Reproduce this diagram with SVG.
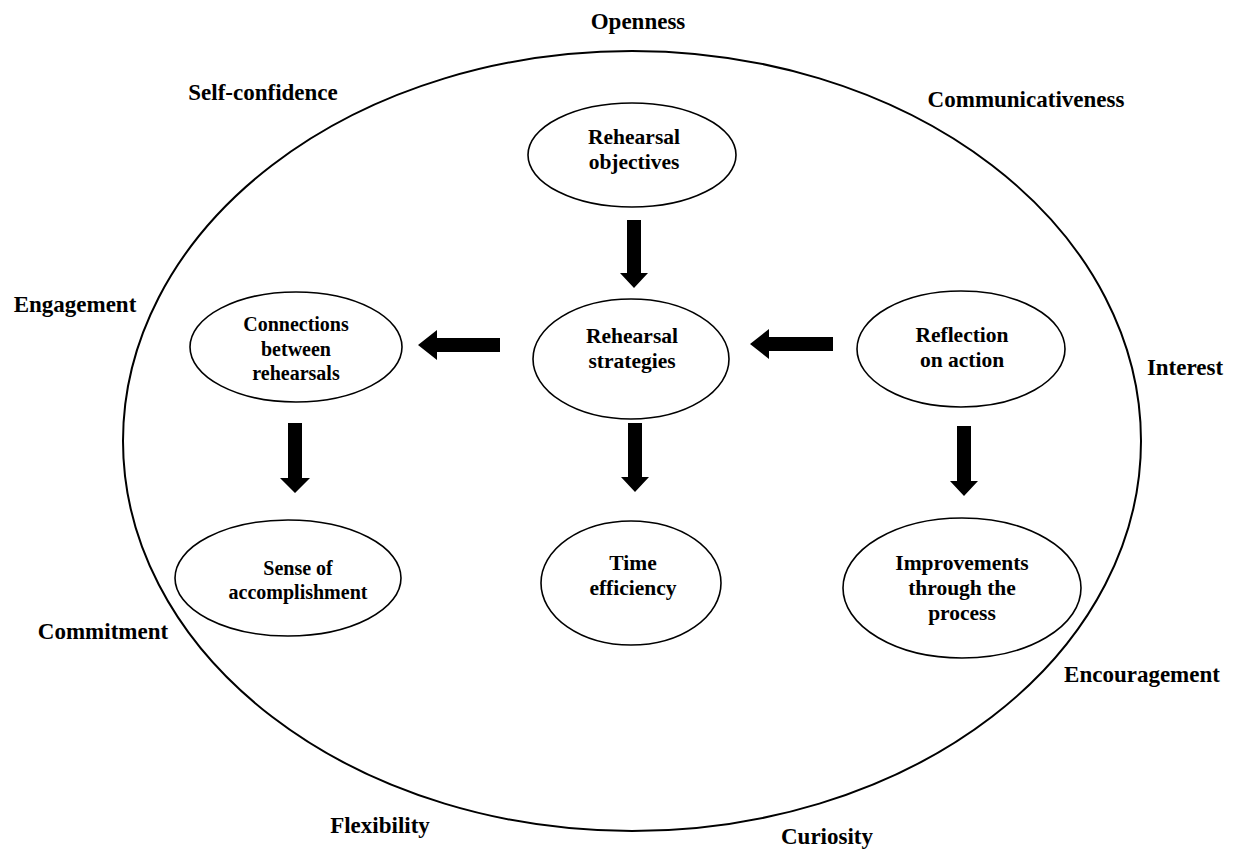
<svg xmlns="http://www.w3.org/2000/svg" width="1234" height="850" viewBox="0 0 1234 850">
<style>
text{font-family:"Liberation Serif","Times New Roman",serif;font-weight:bold;fill:#000;text-anchor:middle}
.outer{font-size:23px}
.lbl{font-size:21.5px}
.sm{font-size:20px}
.node{fill:#fff;stroke:#000;stroke-width:1.6}
.arrow{fill:#000;stroke:none}
</style>
<rect width="1234" height="850" fill="#fff"/>
<g id="frame">
<ellipse cx="632" cy="441" rx="509" ry="390" fill="none" stroke="#000" stroke-width="2"/>
</g>
<g id="outer-labels">
<text x="638" y="29" class="outer">Openness</text>
<text x="263" y="100" class="outer">Self-confidence</text>
<text x="1026" y="107" class="outer">Communicativeness</text>
<text x="75" y="312" class="outer">Engagement</text>
<text x="1185" y="375" class="outer">Interest</text>
<text x="103" y="639" class="outer">Commitment</text>
<text x="1142" y="682" class="outer">Encouragement</text>
<text x="380" y="833" class="outer">Flexibility</text>
<text x="827" y="844" class="outer">Curiosity</text>
</g>
<g id="objectives">
<ellipse class="node" cx="632" cy="155" rx="104" ry="52"/>
<text class="lbl" x="634" y="144">Rehearsal</text>
<text class="lbl" x="634" y="169">objectives</text>
</g>
<g id="strategies">
<ellipse class="node" cx="631" cy="359" rx="98" ry="60"/>
<text class="lbl" x="632" y="343">Rehearsal</text>
<text class="lbl" x="632" y="368">strategies</text>
</g>
<g id="connections">
<ellipse class="node" cx="296" cy="347" rx="106" ry="55"/>
<text class="sm" x="296" y="331">Connections</text>
<text class="sm" x="296" y="356">between</text>
<text class="sm" x="296" y="380">rehearsals</text>
</g>
<g id="reflection">
<ellipse class="node" cx="961" cy="349" rx="104" ry="58"/>
<text class="lbl" x="962" y="342">Reflection</text>
<text class="lbl" x="962" y="367">on action</text>
</g>
<g id="sense">
<ellipse class="node" cx="288" cy="578" rx="113" ry="58"/>
<text class="sm" x="298" y="575">Sense of</text>
<text class="sm" x="298" y="599">accomplishment</text>
</g>
<g id="time">
<ellipse class="node" cx="631" cy="583" rx="90" ry="62"/>
<text class="lbl" x="633" y="570">Time</text>
<text class="lbl" x="633" y="595">efficiency</text>
</g>
<g id="improvements">
<ellipse class="node" cx="962" cy="588" rx="119" ry="70"/>
<text class="lbl" x="962" y="570">Improvements</text>
<text class="lbl" x="962" y="595">through the</text>
<text class="lbl" x="962" y="620">process</text>
</g>
<g id="connectors">
<polygon class="arrow" points="627,220 641,220 641,273 648,273 634,288 620,273 627,273"/>
<polygon class="arrow" points="500,338 500,352 437,352 437,360 418,345 437,330 437,338"/>
<polygon class="arrow" points="833,337 833,351 769,351 769,359 750,344 769,329 769,337"/>
<polygon class="arrow" points="288,423 302,423 302,478 310,478 295,493 280,478 288,478"/>
<polygon class="arrow" points="628,423 642,423 642,477 649,477 635,492 621,477 628,477"/>
<polygon class="arrow" points="957,426 971,426 971,481 978,481 964,496 950,481 957,481"/>
</g>
</svg>
